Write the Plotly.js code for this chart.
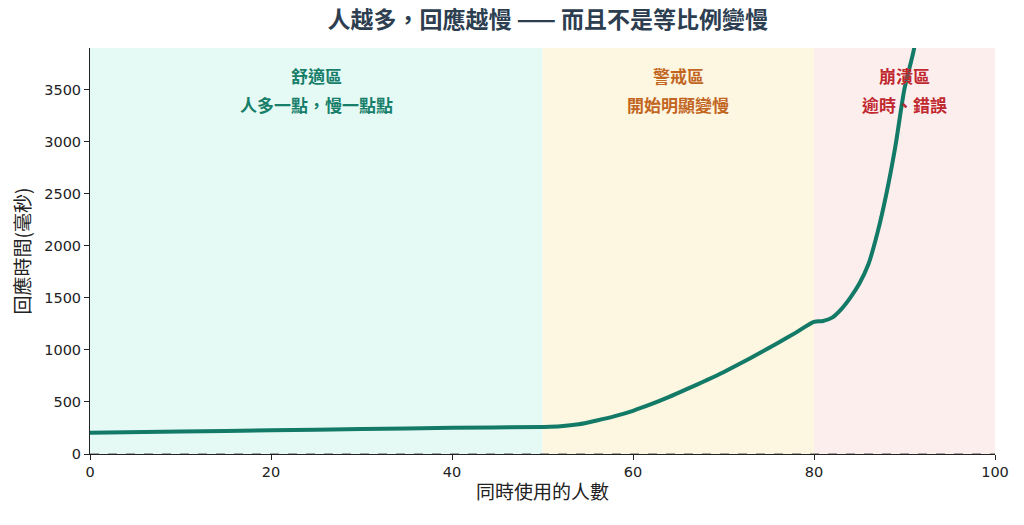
<!DOCTYPE html>
<html>
<head>
<meta charset="utf-8">
<script src="https://cdn.plot.ly/plotly-3.0.1.min.js"></script>
<style>
  html, body { margin: 0; padding: 0; background: #fff; }
  #chart { width: 1024px; height: 525px; }
</style>
</head>
<body>
<div id="chart"></div>
<script>
// users online vs response time (ms)
const users = [0, 10, 20, 30, 40, 50, 52, 54, 56, 58, 60, 62, 64, 66, 68, 70, 72, 74, 76, 78, 80,
               81, 82, 83, 84, 85, 86, 87, 88, 89, 90, 91, 92];
const responseMs = [203, 215, 228, 240, 251, 260, 266, 285, 322, 364, 415, 478, 548, 625, 704, 786, 876, 970, 1066, 1166, 1270,
                    1278, 1310, 1390, 1500, 1635, 1820, 2120, 2500, 2960, 3510, 3870, 4350];

const zoneNames = ['舒適區', '警戒區', '崩潰區'];
const zoneNotes = ['人多一點，慢一點點', '開始明顯變慢', '逾時、錯誤'];
const zoneStart = [0, 50, 80];
const zoneEnd = [50, 80, 100];
const zoneFill = ['#e5faf5', '#fdf6e0', '#fdeeee'];
const zoneText = ['#177e6a', '#c2651f', '#c0282f'];

const cjk = '"Noto Sans CJK TC", "Noto Sans CJK SC", sans-serif';
const num = '"DejaVu Sans", sans-serif';

const shapes = zoneStart.map((x0, i) => ({
  type: 'rect', xref: 'x', yref: 'paper',
  x0: x0, x1: zoneEnd[i], y0: 0, y1: 1,
  fillcolor: zoneFill[i], line: { width: 0 }, layer: 'below'
}));
// dashed baseline at zero
shapes.push({
  type: 'line', xref: 'paper', yref: 'y', x0: 0, x1: 1, y0: 0, y1: 0,
  line: { color: '#555', width: 1, dash: 'dash' }
});

const annotations = [];
zoneNames.forEach((t, i) => {
  const cx = (zoneStart[i] + zoneEnd[i]) / 2;
  annotations.push({
    x: cx, y: 0.933, xref: 'x', yref: 'paper', yanchor: 'middle',
    text: '<b>' + t + '</b>', showarrow: false,
    font: { family: cjk, size: 17, color: zoneText[i] }
  });
  annotations.push({
    x: cx, y: 0.862, xref: 'x', yref: 'paper', yanchor: 'middle',
    text: '<b>' + zoneNotes[i] + '</b>', showarrow: false,
    font: { family: cjk, size: 17, color: zoneText[i] }
  });
});

var trace = {
  x: users,
  y: responseMs,
  type: 'scatter',
  mode: 'lines',
  line: { color: '#127a66', width: 4, shape: 'spline', smoothing: 0.8 },
  hoverinfo: 'skip'
};

var layout = {
  width: 1024, height: 525,
  margin: { l: 90, r: 29, t: 48, b: 71 },
  paper_bgcolor: '#fff', plot_bgcolor: '#fff',
  font: { family: cjk, size: 14, color: '#222' },
  title: {
    text: '<b>人越多，回應越慢 —— 而且不是等比例變慢</b>',
    font: { family: cjk, size: 23, color: '#2c3e50' },
    x: 0.535, xanchor: 'center', y: 0.962, yanchor: 'middle'
  },
  showlegend: false,
  xaxis: {
    range: [0, 100], tickvals: [0, 20, 40, 60, 80, 100],
    showgrid: false, zeroline: false,
    showline: true, linecolor: '#222', linewidth: 1,
    ticks: 'outside', ticklen: 5, tickcolor: '#222',
    tickfont: { family: num, size: 14.5, color: '#222' },
    title: { text: '同時使用的人數', font: { family: cjk, size: 19, color: '#222' }, standoff: 6 }
  },
  yaxis: {
    range: [0, 3900], tickvals: [0, 500, 1000, 1500, 2000, 2500, 3000, 3500],
    showgrid: false, zeroline: false,
    showline: true, linecolor: '#222', linewidth: 1,
    ticks: 'outside', ticklen: 5, tickcolor: '#222',
    tickfont: { family: num, size: 14.5, color: '#222' },
    title: { text: '回應時間(毫秒)', font: { family: cjk, size: 19, color: '#222' }, standoff: 8 }
  },
  shapes: shapes,
  annotations: annotations
};

Plotly.newPlot('chart', [trace], layout, { displayModeBar: false, staticPlot: true });
</script>
</body>
</html>
